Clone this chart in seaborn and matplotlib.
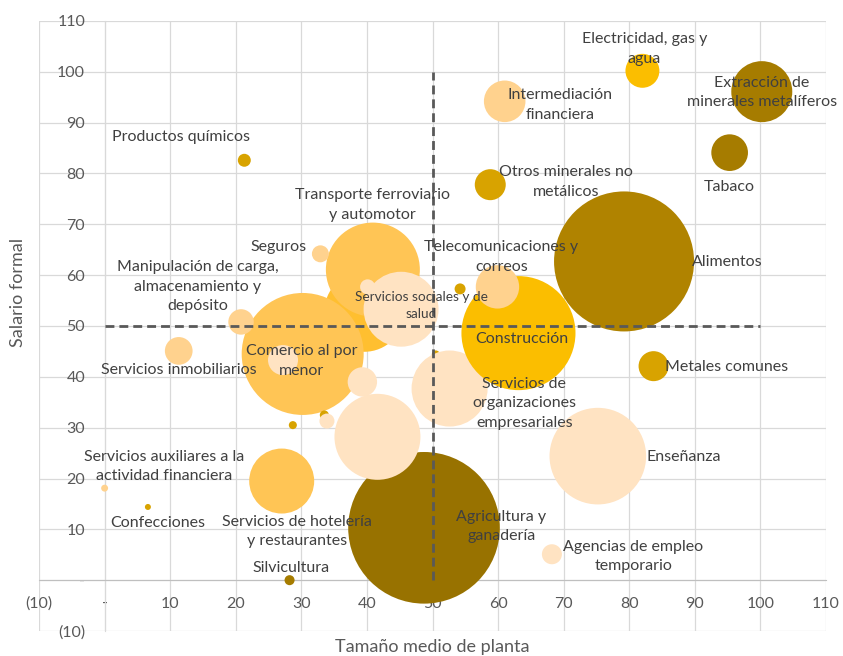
import pandas as pd
import matplotlib
matplotlib.use("Agg")
import matplotlib.pyplot as plt
from matplotlib.ticker import FuncFormatter, MultipleLocator
import seaborn as sns

sns.set_style("white")
plt.rcParams["font.family"] = ["Lato", "DejaVu Sans"]

# datos (orden = orden de dibujo)
sectores = [
    "Alimentos", "Agricultura y ganadería", "Extracción de minerales metalíferos", "Tabaco", "Silvicultura",
    "", "Transporte ferroviario y automotor", "Comercio al por menor", "Servicios de hotelería y restaurantes",
    "Servicios sociales y de salud", "", "", "", "", "", "", "",
    "Servicios de organizaciones empresariales", "Enseñanza", "Agencias de empleo temporario",
    "Construcción", "Electricidad, gas y agua",
    "Intermediación financiera", "Seguros", "Telecomunicaciones y correos",
    "Manipulación de carga, almacenamiento y depósito", "Servicios inmobiliarios",
    "Servicios auxiliares a la actividad financiera",
    "Productos químicos", "Otros minerales no metálicos", "Metales comunes", "Confecciones", "", "",
]
tamano_planta = [
    79.2, 48.7, 100.2, 95.3, 28.2,
    39.6, 40.9, 30.2, 27.0,
    45.2, 40.1, 27.2, 39.3, 41.6, 33.5, 33.9, 50.5,
    52.6, 75.2, 68.2,
    63.1, 82.0,
    61.0, 32.9, 59.9,
    20.8, 11.3,
    0.0,
    21.3, 58.8, 83.7, 6.6, 54.2, 28.7,
]
salario_formal = [
    62.7, 10.3, 96.1, 84.1, 0.0,
    52.8, 61.1, 44.5, 19.5,
    53.3, 57.7, 43.3, 39.0, 28.2, 32.5, 31.3, 44.4,
    37.7, 24.4, 5.1,
    48.6, 100.2,
    94.2, 64.2, 57.7,
    50.8, 45.1,
    18.1,
    82.6, 77.8, 42.1, 14.4, 57.3, 30.5,
]
peso = [
    81.7, 95.8, 15.5, 5.6, 0.42,
    26.7, 36.8, 62.0, 17.6,
    23.4, 0.94, 3.75, 3.6, 30.8, 0.34, 0.94, 0.27,
    24.1, 38.9, 1.67,
    54.2, 4.8,
    7.2, 1.2, 7.85,
    2.7, 3.2,
    0.2,
    0.7, 4.0, 3.75, 0.15, 0.5, 0.27,
]
grupo = [
    "Oscuro", "Oscuro intenso", "Oscuro medio", "Oscuro medio", "Oscuro medio",
    "Amarillo anaranjado", "Naranja", "Naranja", "Naranja",
    "Crema", "Crema", "Crema", "Crema", "Crema", "Dorado", "Crema", "Dorado",
    "Crema", "Crema", "Crema",
    "Amarillo", "Amarillo",
    "Durazno", "Durazno", "Durazno",
    "Durazno", "Durazno",
    "Durazno",
    "Dorado", "Dorado", "Dorado", "Dorado", "Dorado", "Dorado",
]

umbral_tamano = 50
umbral_salario = 50
rango_umbral = (0, 100)

colores = {
    "Oscuro intenso": "#987200",
    "Oscuro": "#B08300",
    "Oscuro medio": "#A67C00",
    "Dorado": "#D8A300",
    "Amarillo": "#FBBE00",
    "Amarillo anaranjado": "#FFBF30",
    "Naranja": "#FFC555",
    "Durazno": "#FFD28E",
    "Crema": "#FFE3C2",
}

# posicion de las etiquetas (x, y, alineacion, texto)
etiquetas = {
    "Electricidad, gas y agua": (82.3, 104.5, "center", "Electricidad, gas y\nagua"),
    "Extracción de minerales metalíferos": (100.2, 95.9, "center", "Extracción de\nminerales metalíferos"),
    "Intermediación financiera": (69.5, 93.5, "center", "Intermediación\nfinanciera"),
    "Tabaco": (95.3, 77.4, "center", "Tabaco"),
    "Productos químicos": (11.6, 87.2, "center", "Productos químicos"),
    "Otros minerales no metálicos": (70.4, 78.3, "center", "Otros minerales no\nmetálicos"),
    "Alimentos": (89.6, 62.6, "left", "Alimentos"),
    "Seguros": (26.5, 65.6, "center", "Seguros"),
    "Transporte ferroviario y automotor": (40.9, 73.8, "center", "Transporte ferroviario\ny automotor"),
    "Manipulación de carga, almacenamiento y depósito": (14.2, 57.7, "center",
                                                          "Manipulación de carga,\nalmacenamiento y\ndepósito"),
    "Telecomunicaciones y correos": (60.5, 63.6, "center", "Telecomunicaciones y\ncorreos"),
    "Construcción": (63.6, 47.4, "center", "Construcción"),
    "Comercio al por menor": (30.0, 43.1, "center", "Comercio al por\nmenor"),
    "Servicios inmobiliarios": (11.3, 41.3, "center", "Servicios inmobiliarios"),
    "Metales comunes": (85.4, 41.9, "left", "Metales comunes"),
    "Servicios de organizaciones empresariales": (64.0, 34.8, "center",
                                                  "Servicios de\norganizaciones\nempresariales"),
    "Servicios auxiliares a la actividad financiera": (9.1, 22.4, "center",
                                                       "Servicios auxiliares a la\nactividad financiera"),
    "Enseñanza": (82.6, 24.2, "left", "Enseñanza"),
    "Confecciones": (8.1, 11.2, "center", "Confecciones"),
    "Servicios de hotelería y restaurantes": (29.4, 9.6, "center", "Servicios de hotelería\ny restaurantes"),
    "Agricultura y ganadería": (60.5, 10.6, "center", "Agricultura y\nganadería"),
    "Agencias de empleo temporario": (80.6, 4.7, "center", "Agencias de empleo\ntemporario"),
    "Silvicultura": (28.5, 2.4, "center", "Silvicultura"),
    "Servicios sociales y de salud": (48.3, 54.1, "center", "Servicios sociales y de\nsalud"),
}

df = pd.DataFrame({"sector": sectores, "tamano": tamano_planta, "salario": salario_formal,
                   "peso": peso, "grupo": grupo})

fig = plt.figure(figsize=(8.43, 6.56), dpi=100)
ax = fig.add_axes([0.0463, 0.0381, 0.9336, 0.9299])

escala = 124.4  # pt^2 por unidad de peso
sns.scatterplot(data=df, x="tamano", y="salario", hue="grupo", palette=colores,
                size="peso", sizes=(0, escala * max(peso)), size_norm=(0, max(peso)),
                linewidth=0, alpha=1, legend=False, ax=ax, zorder=2)

ax.vlines(umbral_tamano, *rango_umbral, colors="#595959", linewidth=2,
          linestyles=(0, (3.2, 1.8)), zorder=3)
ax.hlines(umbral_salario, *rango_umbral, colors="#595959", linewidth=2,
          linestyles=(0, (3.2, 1.8)), zorder=3)

for nombre, (tx, ty, ha, texto) in etiquetas.items():
    size = 9.8 if nombre == "Servicios sociales y de salud" else 11.5
    ax.text(tx, ty, texto, ha=ha, va="center", multialignment="center",
            fontsize=size, color="#404040", linespacing=1.5, zorder=4)

ax.set_xlim(-10, 110)
ax.set_ylim(-10, 110)
ax.xaxis.set_major_locator(MultipleLocator(10))
ax.yaxis.set_major_locator(MultipleLocator(10))


def excel_fmt(v, pos):
    if abs(v) < 1e-9:
        return "-"
    if v < 0:
        return "(%d)" % round(-v)
    return "%d" % round(v)


ax.xaxis.set_major_formatter(FuncFormatter(excel_fmt))
ax.yaxis.set_major_formatter(FuncFormatter(excel_fmt))
ax.grid(True, color="#D9D9D9", linewidth=0.9)
ax.set_axisbelow(True)

for s in ["top", "right"]:
    ax.spines[s].set_visible(False)
ax.spines["bottom"].set_position(("data", 0))
ax.spines["left"].set_position(("data", 0))
ax.spines["bottom"].set_color("#BFBFBF")
ax.spines["left"].set_color("#D9D9D9")
ax.spines["bottom"].set_zorder(1)
ax.spines["left"].set_zorder(1)
ax.tick_params(axis="x", length=0, pad=12, labelsize=11.5, labelcolor="#595959")
ax.tick_params(axis="y", length=0, pad=14, labelsize=11.5, labelcolor="#595959")

ax.set_xlabel("")
ax.set_ylabel("")
fig.text(0.5125, 1 - 647 / 656, "Tamaño medio de planta", ha="center", va="center",
         fontsize=13, color="#595959")
fig.text(18 / 843, 1 - 292 / 656, "Salario formal", ha="center", va="center",
         rotation=90, fontsize=13, color="#595959")

fig.savefig("out.png", dpi=100)
